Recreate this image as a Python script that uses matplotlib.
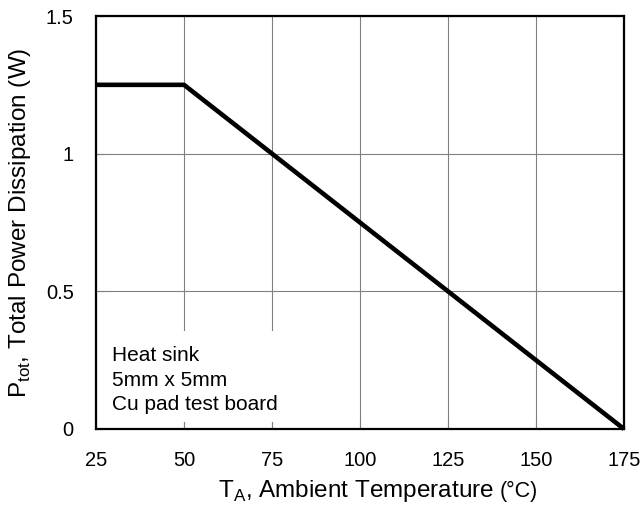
import matplotlib
matplotlib.use("Agg")
import matplotlib.pyplot as plt
from matplotlib.patches import Rectangle

temps = [25, 50, 175]
power = [1.25, 1.25, 0.0]
xticks = [25, 50, 75, 100, 125, 150, 175]
yticks = [0, 0.5, 1, 1.5]
ytick_labels = ["0", "0.5", "1", "1.5"]

plt.rcParams['font.family'] = ['Liberation Sans', 'DejaVu Sans']

fig = plt.figure(figsize=(6.43, 5.12), dpi=100)
ax = fig.add_axes([96/643, 1 - 429/512, (624-96)/643, (429-16)/512])

ax.set_xlim(25, 175)
ax.set_ylim(0, 1.5)
ax.set_xticks(xticks)
ax.set_yticks(yticks)
ax.set_yticklabels(ytick_labels)
ax.grid(True, color='#808080', linewidth=0.8, zorder=0)
ax.tick_params(direction='in', length=6, width=0.8, color='#808080', labelsize=14.5, pad=16)
for s in ax.spines.values():
    s.set_linewidth(1.6)
    s.set_color('black')
    s.set_zorder(5)

ax.plot(temps, power, color='black', linewidth=3.3, zorder=4, clip_on=False, solid_capstyle='butt')

ax.add_patch(Rectangle((25.5, 0.025), 55, 0.33, facecolor='white', edgecolor='none', zorder=3))
ax.text(0.03, 0.046, "Heat sink\n5mm x 5mm\nCu pad test board", transform=ax.transAxes,
        fontsize=15, va='baseline', ha='left', linespacing=1.36, zorder=3.5)

ax.set_ylabel(r"P$_\mathregular{tot}$, Total Power Dissipation (W)", fontsize=17.5, labelpad=9)

t1 = fig.text(218/643, 1 - 497/512, r"T$_\mathregular{A}$, Ambient Temperature",
              fontsize=17.5, ha='left', va='baseline')
fig.canvas.draw()
bb = t1.get_window_extent()
x1 = fig.transFigure.inverted().transform((bb.x1 + 6, bb.y0))[0]
fig.text(x1, 1 - 497/512, "(°C)", fontsize=15.5, ha='left', va='baseline')

fig.savefig("out.png", dpi=100)
